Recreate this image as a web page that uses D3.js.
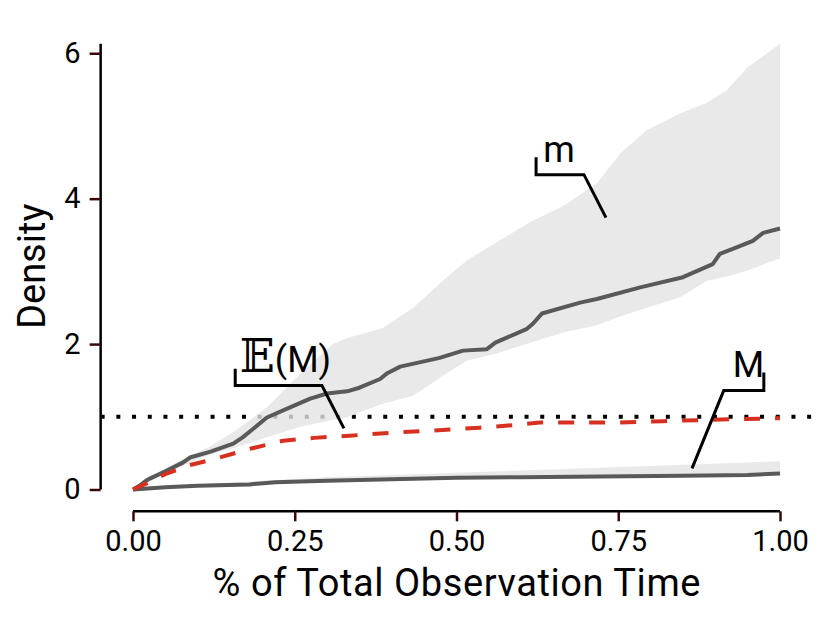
<!DOCTYPE html>
<html>
<head>
<meta charset="utf-8">
<script src="https://cdn.jsdelivr.net/npm/d3@7"></script>
<style>
  body { margin: 0; background: #fff; }
  svg text { font-family: Roboto, "DejaVu Sans", sans-serif; fill: #000; }
</style>
</head>
<body>
<svg id="chart" width="830" height="625"></svg>
<script>
// ---- data ----
// ribbon around m (shared time grid)
var mBandTime = [0, 0.026, 0.077, 0.12, 0.16, 0.207, 0.258, 0.309, 0.33, 0.386, 0.433, 0.485, 0.516, 0.562, 0.614, 0.665, 0.717, 0.753, 0.794, 0.845, 0.887, 0.918, 0.949, 1];
var mBandHigh = [0, 0.17, 0.42, 0.60, 0.82, 1.13, 1.59, 2.0, 2.08, 2.22, 2.5, 2.92, 3.15, 3.40, 3.68, 3.90, 4.21, 4.62, 4.94, 5.17, 5.32, 5.49, 5.80, 6.13];
var mBandLow = [0, 0.12, 0.33, 0.48, 0.58, 0.72, 0.86, 0.96, 0.99, 1.18, 1.29, 1.60, 1.77, 1.87, 2.02, 2.16, 2.26, 2.38, 2.50, 2.64, 2.87, 2.93, 3.01, 3.18];

// m line
var mTime = [0, 0.01, 0.02, 0.026, 0.05, 0.077, 0.088, 0.12, 0.155, 0.17, 0.207, 0.24, 0.274, 0.30, 0.331, 0.35, 0.382, 0.393, 0.413, 0.474, 0.51, 0.547, 0.56, 0.609, 0.618, 0.632, 0.691, 0.717, 0.784, 0.85, 0.896, 0.907, 0.93, 0.958, 0.974, 1];
var mValue = [0, 0.05, 0.12, 0.15, 0.25, 0.37, 0.44, 0.52, 0.63, 0.72, 0.99, 1.12, 1.25, 1.32, 1.35, 1.40, 1.52, 1.60, 1.69, 1.81, 1.91, 1.93, 2.02, 2.21, 2.28, 2.42, 2.57, 2.62, 2.78, 2.92, 3.10, 3.24, 3.32, 3.42, 3.53, 3.59];

// M line and its ribbon
var bigMTime = [0, 0.05, 0.1, 0.18, 0.22, 0.3, 0.4, 0.5, 0.6, 0.722, 0.85, 0.95, 1];
var bigMValue = [0, 0.03, 0.05, 0.07, 0.10, 0.12, 0.14, 0.16, 0.17, 0.18, 0.19, 0.20, 0.22];
var bigMHigh = [0, 0.04, 0.07, 0.11, 0.13, 0.17, 0.20, 0.23, 0.26, 0.30, 0.34, 0.37, 0.39];
var bigMLow = [0, 0.02, 0.04, 0.06, 0.09, 0.11, 0.13, 0.15, 0.16, 0.17, 0.18, 0.19, 0.21];

// E(M) line
var expTime = [0, 0.02, 0.052, 0.09, 0.13, 0.181, 0.232, 0.28, 0.335, 0.397, 0.46, 0.536, 0.58, 0.629, 0.742, 0.82, 0.896, 1];
var expValue = [0, 0.08, 0.22, 0.34, 0.43, 0.56, 0.67, 0.71, 0.74, 0.78, 0.81, 0.85, 0.88, 0.92, 0.92, 0.94, 0.96, 0.98];

var refLevel = 1;

var xTicks = [0, 0.25, 0.5, 0.75, 1];
var yTicks = [0, 2, 4, 6];

// label pointers, in data units: [time, density]
var mPointer = [[0.623, 4.57], [0.623, 4.33], [0.697, 4.33], [0.731, 3.74]];
var expPointer = [[0.158, 1.66], [0.158, 1.43], [0.292, 1.43], [0.326, 0.84]];
var bigMPointer = [[0.975, 1.61], [0.975, 1.36], [0.913, 1.36], [0.864, 0.29]];

// ---- drawing ----
var svg = d3.select('#chart');
var x = d3.scaleLinear().domain([0, 1]).range([133, 780]);
var y = d3.scaleLinear().domain([0, 6.13]).range([489.5, 43.8]);
var panelLeft = x(-0.05), panelRight = x(1.05), panelBottom = y(-0.3);

function zip(ts, vs) {
    return ts.map(function(t, i) { return [t, vs[i]]; });
}
function band(ts, lo, hi) {
    return ts.map(function(t, i) { return {t: t, lo: lo[i], hi: hi[i]}; });
}

var line = d3.line()
        .x(function(d) { return x(d[0]); })
        .y(function(d) { return y(d[1]); });
var area = d3.area()
        .x(function(d) { return x(d.t); })
        .y0(function(d) { return y(d.lo); })
        .y1(function(d) { return y(d.hi); });

// reference line at density 1 (under the ribbons)
svg.append('line')
        .attr('x1', panelLeft).attr('x2', panelRight)
        .attr('y1', y(refLevel)).attr('y2', y(refLevel))
        .attr('stroke', '#000')
        .attr('stroke-width', 4)
        .attr('stroke-dasharray', '4,11.7');

svg.selectAll('.band').data([band(mBandTime, mBandLow, mBandHigh), band(bigMTime, bigMLow, bigMHigh)]).enter()
        .append('path')
        .attr('class', 'band')
        .attr('d', area)
        .attr('fill', '#e4e4e4')
        .attr('fill-opacity', 0.8);

svg.selectAll('.grey-line').data([zip(mTime, mValue), zip(bigMTime, bigMValue)]).enter()
        .append('path')
        .attr('class', 'grey-line')
        .attr('d', line)
        .attr('fill', 'none')
        .attr('stroke', '#595959')
        .attr('stroke-width', 4)
        .attr('stroke-linejoin', 'round');

svg.append('path')
        .attr('d', line(zip(expTime, expValue)))
        .attr('fill', 'none')
        .attr('stroke', '#d7301f')
        .attr('stroke-width', 4)
        .attr('stroke-dasharray', '16,15');

// axes
var xAxis = svg.append('g')
        .attr('transform', 'translate(0,' + panelBottom + ')')
        .call(d3.axisBottom(x).tickValues(xTicks).tickFormat(d3.format('.2f')).tickSize(10).tickPadding(9));
var yAxis = svg.append('g')
        .attr('transform', 'translate(' + panelLeft + ',0)')
        .call(d3.axisLeft(y).tickValues(yTicks).tickFormat(d3.format('d')).tickSize(11).tickPadding(9));

[xAxis, yAxis].forEach(function(g) {
    g.select('.domain').attr('stroke', '#000').attr('stroke-width', 2.5);
    g.selectAll('.tick line').attr('stroke', '#3a0808').attr('stroke-width', 2.5);
    g.selectAll('.tick text').attr('font-size', '29px').attr('fill', '#000')
            .style('font-family', 'Roboto, sans-serif');
});
// capped axis lines: only over the data range
xAxis.select('.domain').attr('d', 'M' + x(0) + ',0H' + x(1));
yAxis.select('.domain').attr('d', 'M0,' + y(0) + 'V' + y(6.13));

svg.append('text')
        .attr('x', x(0.5))
        .attr('y', 596)
        .attr('text-anchor', 'middle')
        .attr('font-size', '38px')
        .attr('textLength', 488)
        .text('% of Total Observation Time');

svg.append('text')
        .attr('transform', 'translate(45,' + y(3.07) + ') rotate(-90)')
        .attr('text-anchor', 'middle')
        .attr('font-size', '38px')
        .text('Density');

// label pointers
svg.selectAll('.pointer').data([mPointer, expPointer, bigMPointer]).enter()
        .append('path')
        .attr('class', 'pointer')
        .attr('d', line)
        .attr('fill', 'none')
        .attr('stroke', '#000')
        .attr('stroke-width', 3);

svg.append('text')
        .attr('x', x(0.634)).attr('y', y(4.51))
        .attr('font-size', '36px')
        .text('m');

svg.append('text')
        .attr('x', x(0.927)).attr('y', y(1.55))
        .attr('font-size', '36px')
        .text('M');

var expLabel = svg.append('text')
        .attr('x', x(0.165)).attr('y', y(1.61));
expLabel.append('tspan')
        .attr('font-size', '46px')
        .style('font-family', '"DejaVu Serif", "DejaVu Sans", serif')
        .text('\uD835\uDD3C');
expLabel.append('tspan')
        .attr('font-size', '36px')
        .text('(M)');
</script>
</body>
</html>
